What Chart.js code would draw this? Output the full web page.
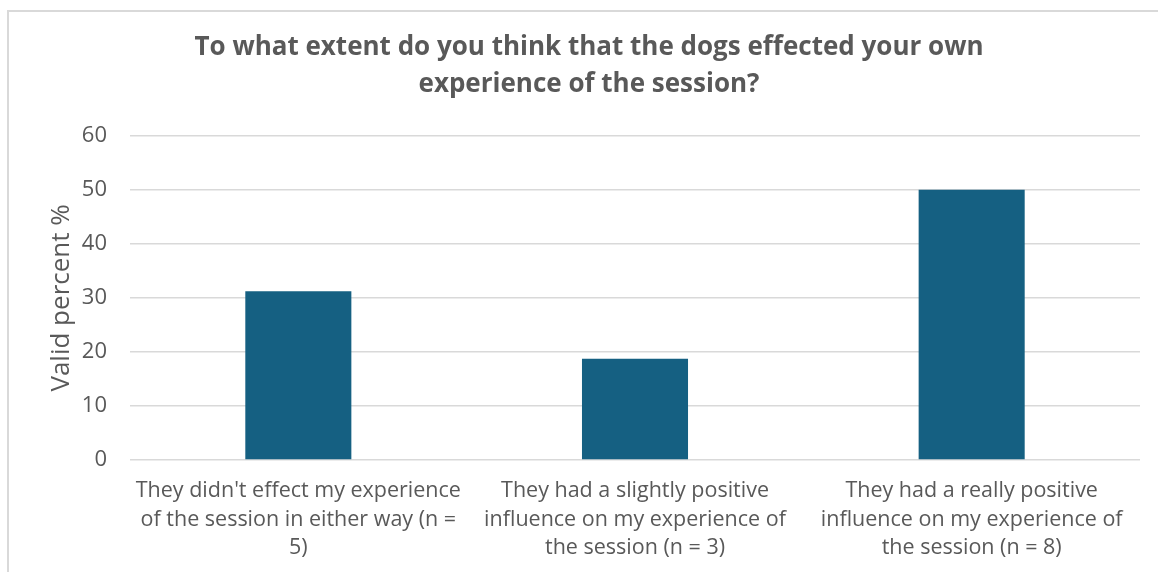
<!DOCTYPE html>
<html>
<head>
<meta charset="utf-8">
<title>Dogs and session experience</title>
<script src="https://cdn.jsdelivr.net/npm/chart.js@4.4.1/dist/chart.umd.min.js"></script>
<style>
    html, body { margin: 0; padding: 0; background: #ffffff; overflow: hidden; }
    #frame {
        position: absolute;
        left: 7px;
        top: 10px;
        width: 1200px;
        height: 700px;
        border: 2px solid #d9d9d9;
    }
    #chart { position: absolute; left: 0; top: 0; }
</style>
</head>
<body>
<div id="frame">
    <canvas id="chart" width="1160" height="560"></canvas>
</div>
<script>
// Dane
const categories = [
    ["They didn't effect my experience", "of the session in either way (n =", "5)"],
    ["They had a slightly positive", "influence on my experience of", "the session (n = 3)"],
    ["They had a really positive", "influence on my experience of", "the session (n = 8)"]
];
const validPercent = [31.25, 18.75, 50];
const titleLines = [
    'To what extent do you think that the dogs effected your own',
    'experience of the session?'
];

const textColor = '#595959';
const gridColor = '#d9d9d9';
const barColor = '#156082';
const fontFamily = "'Open Sans', 'Liberation Sans', sans-serif";

const ctx = document.getElementById('chart').getContext('2d');

new Chart(ctx, {
    type: 'bar',
    data: {
        labels: categories,
        datasets: [{
            label: 'Valid percent %',
            data: validPercent,
            backgroundColor: barColor,
            borderWidth: 0,
            barPercentage: 0.315,
            categoryPercentage: 1
        }]
    },
    options: {
        responsive: false,
        devicePixelRatio: 1,
        animation: false,
        // symetryczny padding, żeby tytuł był wyśrodkowany na całym płótnie
        layout: {
            padding: { left: 29, right: 29, top: 0, bottom: 0 }
        },
        plugins: {
            legend: { display: false },
            tooltip: { enabled: false },
            title: {
                display: true,
                text: titleLines,
                color: textColor,
                font: { family: fontFamily, size: 26, weight: 'bold', lineHeight: 1.42 },
                padding: { top: 17.5, bottom: 32.5 }
            }
        },
        scales: {
            x: {
                grid: { display: false, drawTicks: false },
                border: { display: false },
                ticks: {
                    color: textColor,
                    font: { family: fontFamily, size: 21.5, lineHeight: 1.33 },
                    padding: 16.5,
                    maxRotation: 0,
                    autoSkip: false
                },
                afterFit: (scale) => { scale.height = 112; }
            },
            y: {
                min: 0,
                max: 60,
                grid: { color: gridColor, lineWidth: 1.5, drawTicks: false },
                border: { display: false },
                ticks: {
                    stepSize: 10,
                    color: textColor,
                    font: { family: fontFamily, size: 22 },
                    padding: 23
                },
                title: {
                    display: true,
                    text: 'Valid percent %',
                    color: textColor,
                    font: { family: fontFamily, size: 26, lineHeight: 1.2 },
                    padding: { top: 8, bottom: 0 }
                },
                afterFit: (scale) => { scale.width = 92; }
            }
        }
    }
});
</script>
</body>
</html>
